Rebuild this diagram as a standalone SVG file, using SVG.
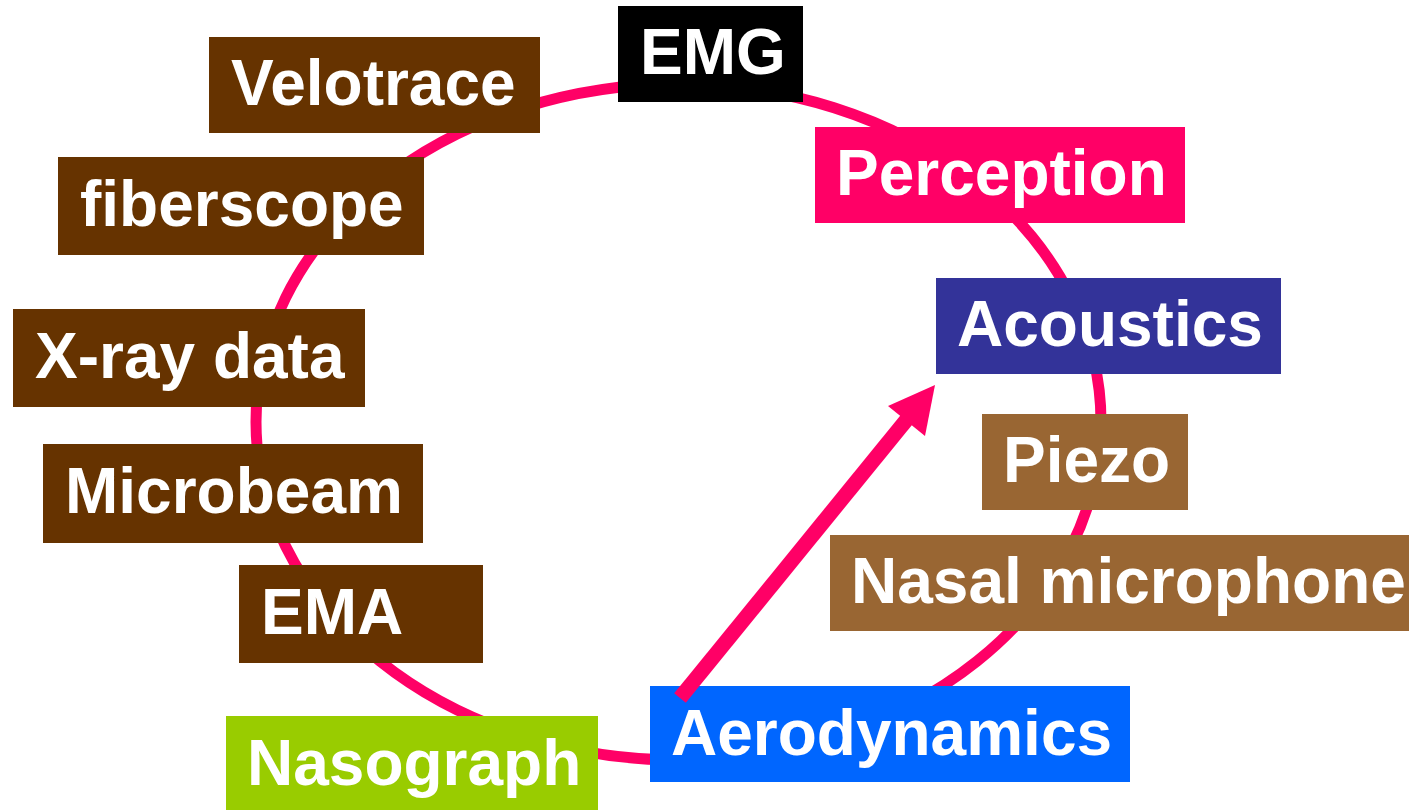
<svg xmlns="http://www.w3.org/2000/svg" width="1409" height="810" viewBox="0 0 1409 810">
<style>
.lbl{font-family:"Liberation Sans",Arial,sans-serif;font-weight:bold;font-size:64px;fill:#FFFFFF}
.brown{fill:#663300}
.lbrown{fill:#996633}
.ring{fill:none;stroke:#FF0066;stroke-width:11}
.arrow{stroke:#FF0066;stroke-width:15;fill:none}
</style>
<rect width="1409" height="810" fill="#FFFFFF"/>
<g id="connectors">
<ellipse class="ring" cx="678.5" cy="422" rx="422.5" ry="338"/>
</g>
<g id="node-emg"><rect x="618" y="6" width="185" height="96" fill="#000000"/><text class="lbl" x="640" y="74">EMG</text></g>
<g id="node-velotrace"><rect class="brown" x="209" y="37" width="331" height="96"/><text class="lbl" x="231" y="105">Velotrace</text></g>
<g id="node-fiberscope"><rect class="brown" x="58" y="157" width="366" height="98"/><text class="lbl" x="80" y="226">fiberscope</text></g>
<g id="node-xray"><rect class="brown" x="13" y="309" width="352" height="98"/><text class="lbl" x="35" y="378">X-ray data</text></g>
<g id="node-microbeam"><rect class="brown" x="43" y="444" width="380" height="99"/><text class="lbl" x="65" y="513">Microbeam</text></g>
<g id="node-ema"><rect class="brown" x="239" y="565" width="244" height="98"/><text class="lbl" x="261" y="634">EMA</text></g>
<g id="node-nasograph"><rect x="226" y="716" width="372" height="94" fill="#99CC00"/><text class="lbl" x="247" y="785">Nasograph</text></g>
<g id="node-aerodynamics"><rect x="650" y="686" width="480" height="96" fill="#0066FF"/><text class="lbl" x="671" y="755">Aerodynamics</text></g>
<g id="node-nasalmic"><rect class="lbrown" x="830" y="535" width="579" height="96"/><text class="lbl" x="851" y="603">Nasal microphone</text></g>
<g id="node-piezo"><rect class="lbrown" x="982" y="414" width="206" height="96"/><text class="lbl" x="1003" y="482">Piezo</text></g>
<g id="node-acoustics"><rect x="936" y="278" width="345" height="96" fill="#333399"/><text class="lbl" x="957" y="346">Acoustics</text></g>
<g id="node-perception"><rect x="815" y="127" width="370" height="96" fill="#FF0066"/><text class="lbl" x="836" y="195">Perception</text></g>
<g id="connectors-arrow">
<line class="arrow" x1="680" y1="698" x2="908" y2="418"/>
<polygon points="935,385 888,406 925,436" fill="#FF0066"/>
</g>
</svg>
